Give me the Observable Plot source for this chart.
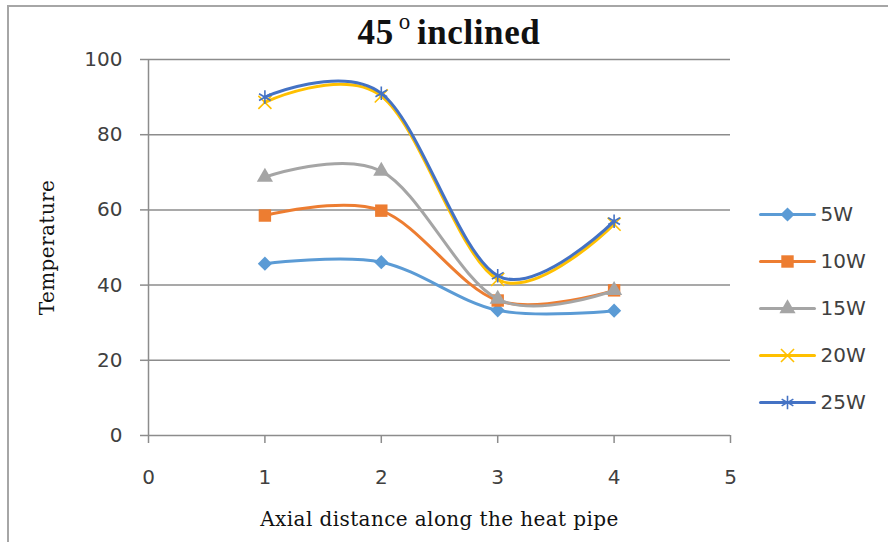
<!DOCTYPE html>
<html>
<head>
<meta charset="utf-8">
<script src="https://cdn.jsdelivr.net/npm/d3@7"></script>
<script src="https://cdn.jsdelivr.net/npm/@observablehq/plot@0.6"></script>
<style>
  html, body { margin: 0; padding: 0; background: #fff; }
  #wrap { position: relative; width: 888px; height: 542px; overflow: hidden; background: #fff; }
  #wrap svg { position: absolute; }
  #frame { position: absolute; left: 7px; top: 5px; width: 900px; height: 560px;
           border-left: 2px solid #a6a6a6; border-top: 2px solid #a6a6a6; }
  #title { position: absolute; left: 0; top: 11px; width: 898px; text-align: center;
           font-family: "Liberation Serif", serif; font-weight: bold; font-size: 35px; color: #111; letter-spacing: 0.6px; }
  #title sup { font-size: 23px; position: relative; top: -2px; margin: 0 6px 0 5px; font-weight: normal; }
  .lbl text { letter-spacing: 0.4px; }
</style>
</head>
<body>
<div id="wrap">
  <div id="frame"></div>
  <div id="title">45<sup>o</sup>inclined</div>
</div>
<script>
// Data
const positions = [1, 2, 3, 4];
const series = ["5W", "10W", "15W", "20W", "25W"];
const t5  = [45.7, 46.1, 33.3, 33.2];
const t10 = [58.5, 59.8, 35.9, 38.6];
const t15 = [68.7, 70.3, 36.3, 38.6];
const t20 = [88.6, 90.3, 41.5, 56.2];
const t25 = [90.0, 91.0, 42.5, 57.0];
const xTicks = [0, 1, 2, 3, 4, 5];
const yTicks = [0, 20, 40, 60, 80, 100];
const titleText = "45°inclined";
const xLabel = "Axial distance along the heat pipe";
const yLabel = "Temperature";

const colors = ["#5B9BD5", "#ED7D31", "#A5A5A5", "#FFC000", "#4472C4"];
const symbols = ["diamond2", "square", "triangle", "times", "asterisk"];
const symbolR = [6.4, 7.0, 6.0, 6.0, 6.4];
const symbolFilled = [true, true, true, false, false];

const values = [t5, t10, t15, t20, t25];
const data = [];
series.forEach((s, i) => positions.forEach((p, j) => data.push({series: s, x: p, y: values[i][j], idx: i})));

const marks = [
  Plot.gridY(yTicks.filter(d => d > 0), {stroke: "#8c8c8c", strokeOpacity: 1, strokeWidth: 1.5}),
  Plot.ruleY([0], {stroke: "#8c8c8c", strokeWidth: 1.5}),
  Plot.ruleX([0], {stroke: "#8c8c8c", strokeWidth: 1.5}),
  Plot.axisY({ticks: yTicks, tickSize: 8, tickPadding: 18, stroke: "#8c8c8c", strokeWidth: 1.5,
              fontSize: 20, fontFamily: "DejaVu Sans", fill: "#404040", label: null, tickFormat: d3.format("d")}),
  Plot.axisX({ticks: xTicks, tickSize: 8, tickPadding: 26, stroke: "#8c8c8c", strokeWidth: 1.5,
              fontSize: 20, fontFamily: "DejaVu Sans", fill: "#404040", label: null, tickFormat: d3.format("d")}),
  Plot.text([yLabel], {frameAnchor: "left", textAnchor: "middle", dx: -101, rotate: -90, fontSize: 20,
              fontFamily: "DejaVu Serif", fill: "#111", className: "lbl"}),
  Plot.text([xLabel], {frameAnchor: "bottom", textAnchor: "middle", dy: 90, fontSize: 20,
              fontFamily: "DejaVu Serif", fill: "#111", className: "lbl"})
];
series.forEach((s, i) => {
  const d = data.filter(e => e.series === s);
  marks.push(Plot.line(d, {x: "x", y: "y", stroke: colors[i], strokeWidth: 3, curve: "cardinal"}));
  marks.push(Plot.dot(d, {x: "x", y: "y", symbol: () => symbols[i], r: symbolR[i],
    fill: symbolFilled[i] ? colors[i] : "none", stroke: colors[i], strokeWidth: symbolFilled[i] ? 0 : 1.6}));
});

const chart = Plot.plot({
  width: 888, height: 542,
  marginLeft: 148, marginRight: 158, marginTop: 59, marginBottom: 107,
  x: {domain: [0, 5]},
  y: {domain: [0, 100]},
  symbol: {type: "identity"},
  style: {background: "transparent", overflow: "visible"},
  marks
});
chart.style.left = "0px"; chart.style.top = "0px";
document.getElementById("wrap").appendChild(chart);

// Legend, drawn as its own small plot
const legendData = series.map((s, i) => ({series: s, idx: i}));
const legendMarks = [];
series.forEach((s, i) => {
  const row = [{series: s, x: 0}, {series: s, x: 1}];
  legendMarks.push(Plot.line(row, {x: "x", y: "series", stroke: colors[i], strokeWidth: 3}));
  legendMarks.push(Plot.dot([{series: s, x: 0.5}], {x: "x", y: "series", symbol: () => symbols[i], r: symbolR[i],
    fill: symbolFilled[i] ? colors[i] : "none", stroke: colors[i], strokeWidth: symbolFilled[i] ? 0 : 1.6}));
});
legendMarks.push(Plot.text(legendData, {x: () => 1, y: "series", text: "series", textAnchor: "start", dx: 6,
  fontSize: 20, fontFamily: "DejaVu Sans", fill: "#404040"}));
const legend = Plot.plot({
  width: 138, height: 230,
  marginLeft: 0, marginRight: 0, marginTop: 0, marginBottom: 0,
  x: {domain: [0, 1], range: [20, 74], axis: null},
  y: {domain: series, type: "point", range: [22, 213], padding: 0, axis: null},
  symbol: {type: "identity"},
  style: {background: "transparent", overflow: "visible"},
  marks: legendMarks
});
legend.style.left = "740px"; legend.style.top = "190px";
document.getElementById("wrap").appendChild(legend);
</script>
</body>
</html>
